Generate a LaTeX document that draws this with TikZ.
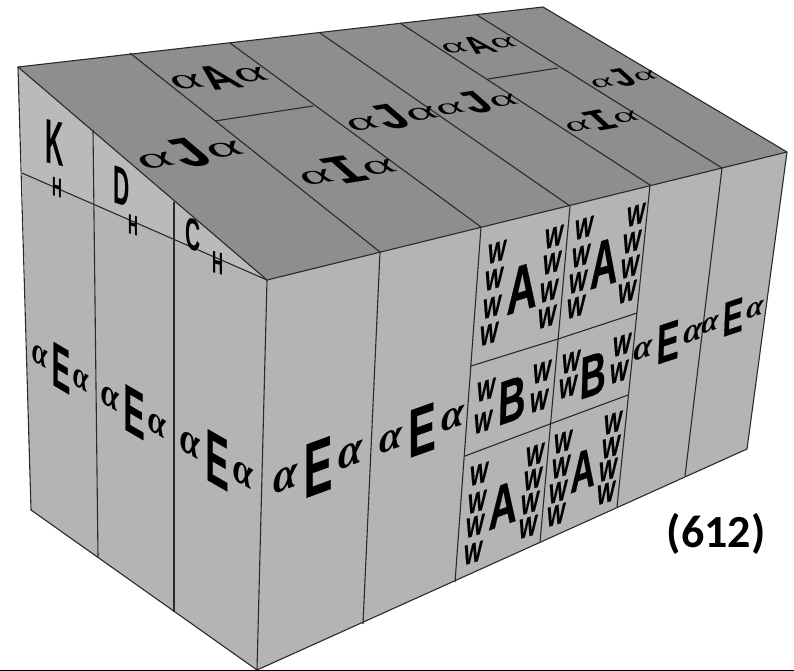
\documentclass[tikz,border=0pt]{standalone}
\usepackage{fontspec}
\usepackage{graphicx}
\setmainfont{Liberation Sans}
\newfontfamily\capfont{Carlito}
\newfontfamily\serfont{Liberation Serif}
\newfontfamily\blockfont{Liberation Mono}
\newfontfamily\heavyfont[BoldFeatures={FakeBold=0.6}]{Liberation Sans}
\definecolor{wallgray}{HTML}{B4B4B4}
\definecolor{gablegray}{HTML}{BABABA}
\definecolor{roofgray}{HTML}{8E8E8E}
\definecolor{edgegray}{HTML}{2A2A2A}
\newcommand{\sidealp}{\raisebox{9pt}{\scalebox{1.65}[1]{\fontsize{27}{27}\selectfont\serfont\bfseries\itshape α}}}
\newcommand{\sidelab}[1]{\sidealp\hspace{6pt}{\fontsize{44}{44}\selectfont\heavyfont\bfseries #1}\hspace{6pt}\sidealp}
\newcommand{\roofalp}{\raisebox{6pt}{\scalebox{1.6}[1]{\fontsize{36}{36}\selectfont\serfont\itshape α}}}
\newcommand{\roofsans}[1]{\roofalp\hspace{1pt}{\fontsize{44}{44}\selectfont\bfseries #1}\hspace{1pt}\roofalp}
\newcommand{\roofmono}[1]{\roofalp{\fontsize{54}{54}\selectfont\blockfont\bfseries #1}\roofalp}
\tikzset{
  edge/.style={draw=edgegray, line width=1.1pt},
  lab/.style={inner sep=0pt, text=black},
  wlab/.style={lab, font=\fontsize{22}{22}\selectfont\heavyfont\bfseries, cm={0.88,0.27,0.12,1.3,(0,0)}},
  biglab/.style={lab, font=\fontsize{40}{40}\selectfont\heavyfont\bfseries},
  gablab/.style={lab, font=\fontsize{30}{30}\selectfont\bfseries},
  sublab/.style={lab, font=\fontsize{16}{16}\selectfont\bfseries}
}
\begin{document}
\begin{tikzpicture}[x=1pt, y=1pt]
\useasboundingbox (0,-671) rectangle (794,0);
% corners of the block
\coordinate (bk) at (18,-67);
\coordinate (br) at (543,-7);
\coordinate (tr) at (787,-152);
\coordinate (tf) at (267,-280);
\coordinate (bl) at (31,-510);
\coordinate (bf) at (257,-670);
\coordinate (rb) at (747,-449);
% gable points
\coordinate (g1) at (93,-130);
\coordinate (g2) at (174,-202);
\coordinate (s1) at (98,-557);
\coordinate (s2) at (174,-612);
\coordinate (h0) at (22,-173);
% roof stripes, back edge and front edge
\coordinate (r1) at (130,-53);
\coordinate (r2) at (230,-43);
\coordinate (r3) at (320,-33);
\coordinate (r4) at (400,-23);
\coordinate (r5) at (477,-15);
\coordinate (f1) at (380,-252);
\coordinate (f2) at (481,-227);
\coordinate (f3) at (570,-206);
\coordinate (f4) at (650,-185);
\coordinate (f5) at (722,-168);
% wall stripes, bottom edge
\coordinate (b1) at (363,-624);
\coordinate (b2) at (455,-582);
\coordinate (b3) at (540,-542);
\coordinate (b4) at (617,-507);
\coordinate (b5) at (685,-476);
% faces
\fill[wallgray] (bl) -- (h0) -- (tf) -- (bf) -- cycle;
\fill[gablegray] (bk) -- (tf) -- (h0) -- cycle;
\fill[wallgray] (tf) -- (tr) -- (rb) -- (bf) -- cycle;
\fill[roofgray] (bk) -- (br) -- (tr) -- (tf) -- cycle;
% outline
\draw[edge] (bk) -- (br) -- (tr) -- (rb) -- (bf) -- (bl) -- cycle;
\draw[edge] (bk) -- (tf) -- (tr);
\draw[edge] (tf) -- (bf);
\draw[edge] (g1) -- (s1);
\draw[edge] (g2) -- (s2);
\draw[edge] (h0) -- (tf);
% stripes
\draw[edge] (r1) -- (f1) -- (b1);
\draw[edge] (r2) -- (f2) -- (b2);
\draw[edge] (r3) -- (f3) -- (b3);
\draw[edge] (r4) -- (f4) -- (b4);
\draw[edge] (r5) -- (f5) -- (b5);
% cross lines
\draw[edge] (215,-121) -- (313,-106);
\draw[edge] (488,-79) -- (558,-68);
\draw[edge] (471,-366) -- (558,-339) -- (637,-313);
\draw[edge] (465,-456) -- (550,-424) -- (628,-395);
\draw[line width=1pt] (0,-670) -- (794,-670);
% wall labels
\node[lab, cm={0.62,-0.37,0,1.43,(0,0)}] (e1) at (61,-368) {\sidelab{E}};
\node[lab, cm={0.72,-0.42,0,1.5,(0,0)}] (e2) at (134,-412) {\sidelab{E}};
\node[lab, cm={0.8,-0.46,0,1.68,(0,0)}] (e3) at (217,-460) {\sidelab{E}};
\node[lab, cm={0.98,0.36,0,1.75,(0,0)}] (e4) at (318,-467) {\sidelab{E}};
\node[lab, cm={0.93,0.33,0,1.55,(0,0)}] (e5) at (422,-430) {\sidelab{E}};
\node[lab, cm={0.76,0.25,0.05,1.27,(0,0)}] (e6) at (668,-342) {\sidelab{E}};
\node[lab, cm={0.69,0.23,0.05,1.11,(0,0)}] (e7) at (733,-317) {\sidelab{E}};
% roof labels
\node[lab, cm={1.0,0.1,-0.8,0.73,(0,0)}] (a1) at (218,-78) {\roofsans{A}};
\node[lab, cm={0.76,0.08,-0.62,0.52,(0,0)}] (a2) at (478,-45) {\roofsans{A}};
\node[lab, cm={1.1,0.18,-0.85,0.72,(0,0)}] (j1) at (188,-153) {\roofmono{J}};
\node[lab, cm={0.95,0.16,-0.72,0.62,(0,0)}] (j2) at (390,-117) {\roofmono{J}};
\node[lab, cm={0.85,0.14,-0.62,0.55,(0,0)}] (j3) at (475,-103) {\roofmono{J}};
\node[lab, cm={0.68,0.11,-0.5,0.45,(0,0)}] (j4) at (622,-78) {\roofmono{J}};
\node[lab, cm={1.0,0.16,-0.77,0.68,(0,0)}] (i1) at (345,-170) {\roofmono{I}};
\node[lab, cm={0.76,0.14,-0.55,0.5,(0,0)}] (i2) at (600,-120) {\roofmono{I}};
% gable labels
\node[gablab, cm={0.85,-0.2,0,2.1,(0,0)}] (k) at (55,-143) {K};
\node[gablab, cm={0.75,-0.25,0,1.8,(0,0)}] (d) at (122,-187) {D};
\node[gablab, cm={0.7,-0.25,0,1.5,(0,0)}] (c) at (193,-235) {C};
\node[sublab, cm={0.85,-0.25,0,1.7,(0,0)}] (h1) at (57,-188) {H};
\node[sublab, cm={0.85,-0.25,0,1.75,(0,0)}] (h2) at (133,-225) {H};
\node[sublab, cm={0.95,-0.25,0,1.95,(0,0)}] (h3) at (218,-263) {H};
% block of A and B cells
\node[biglab, cm={1.05,0.33,0.05,1.65,(0,0)}] (ca1) at (522,-288) {A};
\node[biglab, cm={0.95,0.28,0.05,1.65,(0,0)}] (ca2) at (604,-263) {A};
\node[biglab, cm={0.95,0.33,0.05,1.55,(0,0)}] (cb1) at (512,-400) {B};
\node[biglab, cm={0.9,0.3,0.05,1.5,(0,0)}] (cb2) at (593,-375) {B};
\node[biglab, cm={0.98,0.35,0.05,1.5,(0,0)}] (ca3) at (503,-505) {A};
\node[biglab, cm={0.85,0.3,0.05,1.4,(0,0)}] (ca4) at (583,-470) {A};
\foreach \wx/\wy [count=\wi] in {497/252,494/279,492/307,489/334,554/237,552/263,549/291,547/317,
    584/228,581/256,578/282,576/307,636/215,632/242,630/267,627/292,
    486/390,483/422,542/372,539/401,571/362,568/387,622/345,619/372,
    479/474,477/502,475/526,473/553,535/455,533/479,530/503,528/527,
    563/442,561/467,558/492,556/515,613/423,611/447,608/470,606/493}
  \node[wlab] (w\wi) at (\wx,-\wy) {W};
% figure number
\node[lab, font=\fontsize{46}{46}\selectfont\capfont\bfseries] (num) at (716,-534) {(612)};
\end{tikzpicture}
\end{document}
